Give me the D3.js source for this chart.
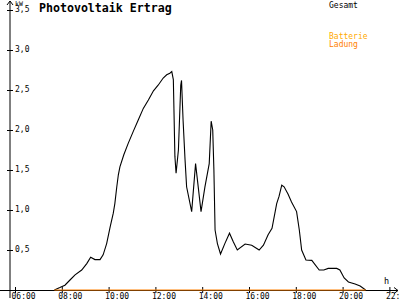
<!DOCTYPE html>
<html>
<head>
<meta charset="utf-8">
<script src="https://cdn.jsdelivr.net/npm/d3@7"></script>
<style>
  body { margin: 0; background: #fff; }
  svg text { font-family: "DejaVu Sans Mono", monospace; }
</style>
</head>
<body>
<svg width="400" height="300"></svg>
<script>
// Messwerte (Uhrzeit, kW)
const zeiten = ['07:41','07:55','08:08','08:21','08:34','08:51','09:04','09:14','09:25','09:38',
  '09:46','09:55','10:04','10:12','10:16','10:21','10:25','10:29','10:39','10:50',
  '11:03','11:16','11:29','11:42','11:55','12:07','12:20','12:29','12:37','12:42',
  '12:46','12:50','12:53','12:59','13:05','13:07','13:11','13:16','13:20','13:33',
  '13:43','13:57','14:07','14:18','14:23','14:27','14:30','14:33','14:39','14:47',
  '14:58','15:10','15:20','15:30','15:50','16:07','16:26','16:37','16:49','16:59',
  '17:11','17:17','17:24','17:30','17:40','17:49','18:02','18:09','18:15','18:26',
  '18:41','19:00','19:12','19:23','19:45','19:53','20:04','20:15','20:32','20:45','20:59'];
const gesamt = [0,0.03,0.06,0.125,0.19,0.25,0.33,0.41,0.38,0.38,
  0.44,0.58,0.79,0.96,1.08,1.29,1.44,1.54,1.69,1.83,
  1.98,2.125,2.27,2.375,2.49,2.56,2.65,2.69,2.71,2.73,
  2.63,1.67,1.46,1.75,2.56,2.62,2.12,1.63,1.29,0.98,
  1.58,0.98,1.29,1.58,2.11,2.0,1.5,0.75,0.58,0.45,
  0.58,0.71,0.6,0.5,0.575,0.56,0.5,0.56,0.69,0.77,
  1.08,1.17,1.31,1.29,1.2,1.1,0.98,0.75,0.5,0.375,
  0.37,0.25,0.25,0.27,0.27,0.25,0.15,0.10,0.075,0.05,0];
const ladung = zeiten.map(() => 0); // Batterie-Ladung bleibt bei 0

const yTicks = [0.5, 1, 1.5, 2, 2.5, 3, 3.5];
const xTicks = ['06:00','08:00','10:00','12:00','14:00','16:00','18:00','20:00','22:00'];

const stunden = s => { const [h, m] = s.split(':'); return +h + m / 60; };

const svg = d3.select('svg');
const x = d3.scaleLinear().domain([6, 22]).range([15, 389.4]);
const y = d3.scaleLinear().domain([0, 3.5]).range([290, 10]);

// Achsen
const yAchse = svg.append('g')
  .attr('transform', 'translate(10,0)')
  .call(d3.axisRight(y).tickValues(yTicks).tickSize(3).tickPadding(2)
    .tickFormat(d => d3.format('.1f')(d).replace('.', ',')));
yAchse.select('.domain').remove();
yAchse.selectAll('.tick line').attr('x1', -3).attr('stroke', '#000');
yAchse.selectAll('.tick text').attr('font-size', 8).attr('fill', '#000').attr('dy', '0.2em');

const xAchse = svg.append('g')
  .attr('transform', 'translate(0,290)')
  .call(d3.axisBottom(x).tickValues(xTicks.map(stunden)).tickSize(3)
    .tickFormat((d, i) => xTicks[i]));
xAchse.select('.domain').remove();
xAchse.selectAll('.tick line').attr('y1', -3).attr('stroke', '#000');
xAchse.selectAll('.tick text').attr('font-size', 8).attr('fill', '#000')
  .attr('text-anchor', 'start').attr('x', -4).attr('y', 3).attr('dy', '0.71em');

// Achsenlinien mit Pfeilen
svg.append('path').attr('d', 'M10,298V1M7,5L10,1L13,5')
  .attr('fill', 'none').attr('stroke', '#000');
svg.append('path').attr('d', 'M0,290.5H398M394,287.5L398,290.5L394,293.5')
  .attr('fill', 'none').attr('stroke', '#000');

// Kurven
const linie = d3.line().x(d => x(stunden(d[0]))).y(d => y(d[1]));
svg.append('path').datum(zeiten.map((t, i) => [t, gesamt[i]]))
  .attr('d', linie).attr('fill', 'none').attr('stroke', '#000').attr('stroke-width', 1.1);
svg.append('path').datum(zeiten.map((t, i) => [t, ladung[i]]))
  .attr('d', linie).attr('fill', 'none').attr('stroke', '#ff8000').attr('stroke-width', 1.2);

// Beschriftungen
svg.append('text').text('Photovoltaik Ertrag')
  .attr('x', 39).attr('y', 11.5).attr('font-size', 11.6).attr('font-weight', 'bold');
svg.append('text').text('kW').attr('x', 15).attr('y', 5.5).attr('font-size', 6.5);
svg.append('text').text('h').attr('x', 384).attr('y', 284).attr('font-size', 8.5);
svg.append('text').text('Gesamt').attr('x', 329).attr('y', 7.5).attr('font-size', 8);
svg.append('text').text('Batterie').attr('x', 329).attr('y', 38.5).attr('font-size', 8).attr('fill', '#ffaa00');
svg.append('text').text('Ladung').attr('x', 329).attr('y', 46.5).attr('font-size', 8).attr('fill', '#ff8000');
</script>
</body>
</html>
